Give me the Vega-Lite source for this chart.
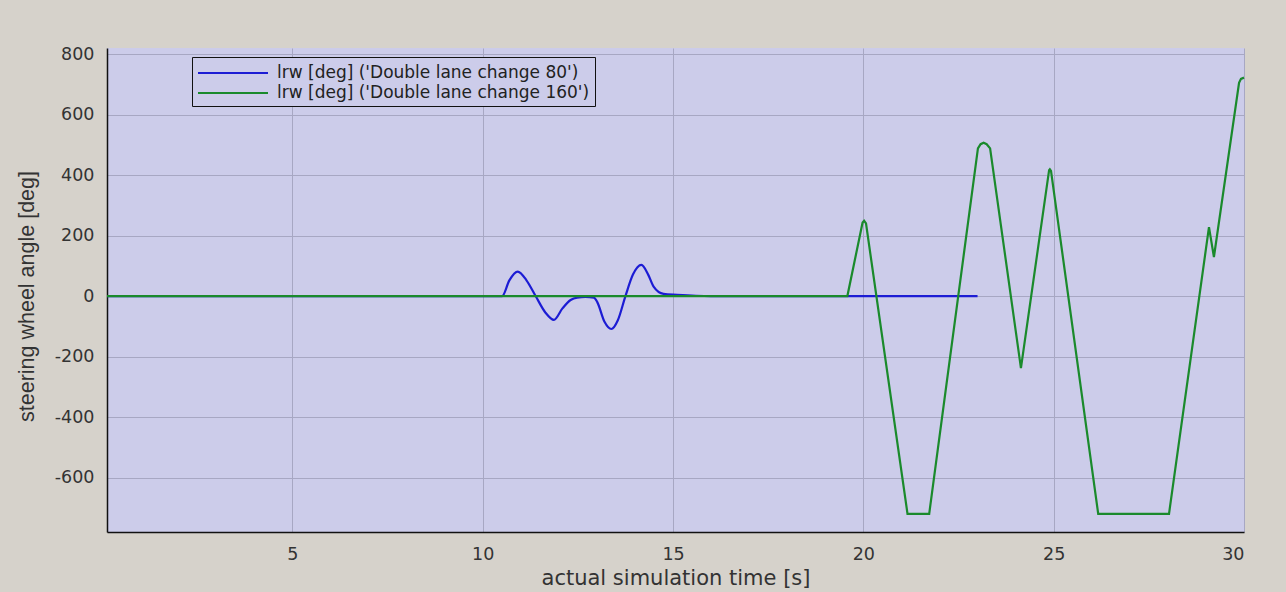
{
  "$schema": "https://vega.github.io/schema/vega-lite/v6.json",
  "width": 1137,
  "height": 484,
  "autosize": {"type": "none"},
  "padding": {"left": 107, "top": 48, "right": 42, "bottom": 60},
  "background": "#d6d2cb",
  "config": {
    "view": {"fill": "#ccccea", "stroke": null},
    "font": "DejaVu Sans",
    "axis": {
      "grid": true,
      "gridColor": "#a7a7c3",
      "gridWidth": 1,
      "domainColor": "#111111",
      "domainWidth": 1.5,
      "ticks": false,
      "labelFont": "DejaVu Sans",
      "labelFontSize": 17.5,
      "labelColor": "#333333",
      "titleFontWeight": "normal",
      "titleColor": "#333333"
    }
  },
  "datasets": {
    "blue": [
      {"t": 0.13, "v": 0}, {"t": 10.45, "v": 0}, {"t": 10.51, "v": 0}, {"t": 10.7, "v": 52},
      {"t": 10.92, "v": 81}, {"t": 11.15, "v": 52}, {"t": 11.39, "v": 0}, {"t": 11.65, "v": -55},
      {"t": 11.87, "v": -79}, {"t": 12.1, "v": -40}, {"t": 12.31, "v": -13}, {"t": 12.48, "v": -5},
      {"t": 12.7, "v": -3}, {"t": 12.92, "v": -5}, {"t": 13.01, "v": -20}, {"t": 13.2, "v": -85},
      {"t": 13.38, "v": -109}, {"t": 13.55, "v": -80}, {"t": 13.75, "v": 0}, {"t": 13.95, "v": 72},
      {"t": 14.17, "v": 103}, {"t": 14.35, "v": 70}, {"t": 14.49, "v": 31}, {"t": 14.75, "v": 7},
      {"t": 15.11, "v": 4}, {"t": 15.6, "v": 1}, {"t": 16.0, "v": 0}, {"t": 23.0, "v": 0}
    ],
    "green": [
      {"t": 0.13, "v": 0}, {"t": 19.58, "v": 0}, {"t": 19.98, "v": 243}, {"t": 20.02, "v": 249}, {"t": 20.07, "v": 240},
      {"t": 21.16, "v": -720}, {"t": 21.73, "v": -720}, {"t": 23.01, "v": 488}, {"t": 23.08, "v": 502},
      {"t": 23.16, "v": 507}, {"t": 23.24, "v": 502}, {"t": 23.33, "v": 488},
      {"t": 24.14, "v": -238}, {"t": 24.88, "v": 416}, {"t": 24.9, "v": 419}, {"t": 24.93, "v": 414}, {"t": 26.17, "v": -720}, {"t": 28.03, "v": -720},
      {"t": 29.08, "v": 228}, {"t": 29.21, "v": 129}, {"t": 29.87, "v": 705}, {"t": 29.92, "v": 718},
      {"t": 30.0, "v": 722}
    ]
  },
  "encoding": {
    "x": {
      "field": "t", "type": "quantitative",
      "scale": {"domain": [0.13, 30], "nice": false, "zero": false},
      "axis": {"values": [5, 10, 15, 20, 25, 30], "title": "actual simulation time [s]", "titleFont": "DejaVu Sans", "titleFontSize": 21, "labelPadding": 13, "titlePadding": 5}
    },
    "y": {
      "field": "v", "type": "quantitative",
      "scale": {"domain": [-780, 820], "nice": false},
      "axis": {"values": [-600, -400, -200, 0, 200, 400, 600, 800], "labelExpr": "'' + datum.value", "title": "steering wheel angle [deg]", "titleFont": "Liberation Sans", "titleFontSize": 21.5, "labelPadding": 13, "titleX": -80, "titleY": 248, "titleBaseline": "middle"}
    },
    "color": {
      "field": "s", "type": "nominal",
      "scale": {
        "domain": ["lrw [deg] ('Double lane change 80')", "lrw [deg] ('Double lane change 160')"],
        "range": ["#1c1cd4", "#1a8a2c"]
      },
      "legend": {
        "title": null,
        "orient": "none",
        "legendX": 85,
        "legendY": 9,
        "strokeColor": "#111111",
        "fillColor": "#ccccea",
        "padding": 5,
        "symbolType": "M-1,0H6",
        "symbolSize": 400,
        "symbolStrokeWidth": 2,
        "symbolFillColor": "transparent",
        "labelFont": "DejaVu Sans",
        "labelFontSize": 17,
        "labelColor": "#222222",
        "labelOffset": 58,
        "labelLimit": 0,
        "rowPadding": 1
      }
    }
  },
  "layer": [
    {
      "data": {"name": "blue"},
      "transform": [{"calculate": "\"lrw [deg] ('Double lane change 80')\"", "as": "s"}],
      "mark": {"type": "line", "strokeWidth": 2.2, "interpolate": "monotone"}
    },
    {
      "data": {"name": "green"},
      "transform": [{"calculate": "\"lrw [deg] ('Double lane change 160')\"", "as": "s"}],
      "mark": {"type": "line", "strokeWidth": 2.2}
    }
  ]
}
